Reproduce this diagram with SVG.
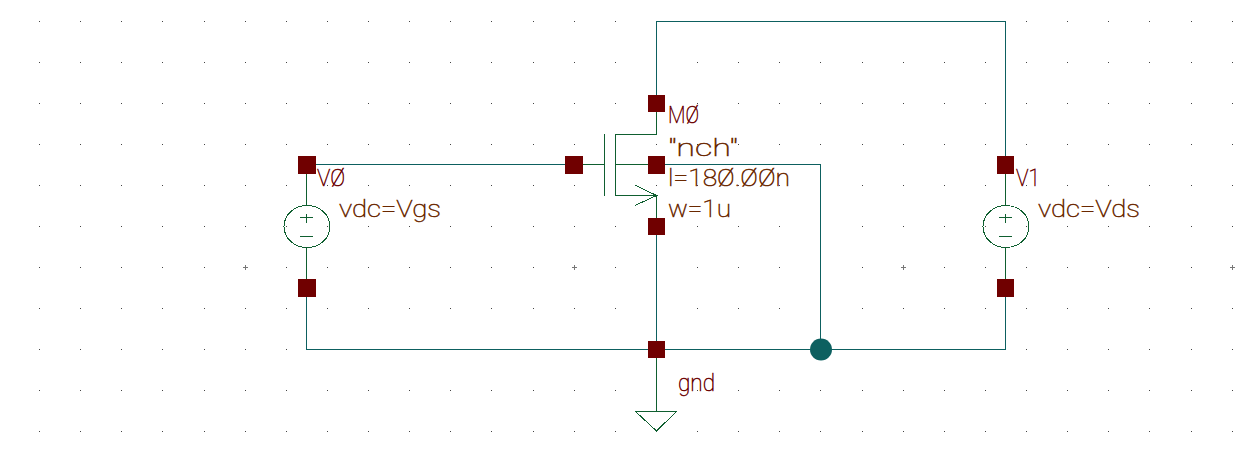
<svg xmlns="http://www.w3.org/2000/svg" width="1254" height="452" viewBox="0 0 1254 452">
<style>
.grid line{stroke:#444;stroke-width:1;stroke-dasharray:1 40.125;shape-rendering:crispEdges}
.tick{stroke:#777;stroke-width:1;fill:none;shape-rendering:crispEdges}
.wire{stroke:#0d6060;stroke-width:1;fill:none;shape-rendering:crispEdges}
.sym{stroke:#0f5f30;stroke-width:1;fill:none;shape-rendering:crispEdges}
.pin{fill:#700000}
text{font-family:Roboto,"Liberation Sans",sans-serif;font-weight:100;font-size:23.500px}
.name{fill:#6a0000;stroke:#6a0000;stroke-width:.5}
.prop{fill:#6a2800;stroke:#6a2800;stroke-width:.5}
</style>
<rect width="1254" height="452" fill="#fff"/>
<g class="grid">
<line x1="39" y1="21.5" x2="1254" y2="21.5"/><line x1="39" y1="62.5" x2="1254" y2="62.5"/><line x1="39" y1="103.5" x2="1254" y2="103.5"/><line x1="39" y1="144.5" x2="1254" y2="144.5"/><line x1="39" y1="185.5" x2="1254" y2="185.5"/><line x1="39" y1="226.5" x2="1254" y2="226.5"/><line x1="39" y1="267.5" x2="1254" y2="267.5"/><line x1="39" y1="308.5" x2="1254" y2="308.5"/><line x1="39" y1="349.5" x2="1254" y2="349.5"/><line x1="39" y1="390.5" x2="1254" y2="390.5"/><line x1="39" y1="431.5" x2="1254" y2="431.5"/>
</g>
<path class="tick" d="M243 267.500h5M245.500 265v5M572 267.500h5M574.500 265v5M901 267.500h5M903.500 265v5M1230 267.500h5M1232.500 265v5"/>
<g id="connectors">
<path class="wire" d="M316 164.500H565"/>
<path class="wire" d="M656.500 95V21.500H1005.500V156"/>
<path class="wire" d="M665 164.500H820.500V349.500"/>
<path class="wire" d="M656.500 235V341"/>
<path class="wire" d="M306.500 297V349.500H1005.500V297"/>
<circle cx="821" cy="349.500" r="11" fill="#0d6060"/>
</g>
<g id="V0">
<path class="sym" d="M306.500 174V205M306.500 247V279M300 217.500h13M306.500 213.500v9M300 236.500h13"/>
<ellipse class="sym" cx="307" cy="226.500" rx="23" ry="21"/>
<rect class="pin" x="298" y="156" width="18" height="18"/>
<rect class="pin" x="298" y="279" width="18" height="18"/>
<text class="name" x="317" y="186" textLength="28" lengthAdjust="spacingAndGlyphs">VØ</text>
<text class="prop" x="339" y="217" textLength="102" lengthAdjust="spacingAndGlyphs">vdc=Vgs</text>
</g>
<g id="M0">
<path class="sym" d="M583 164.500H604.500M604.500 134V196M656.500 112V134.500H615.500V195.500H656.500V218M615.500 164.500H648M635 185L656.500 195.500L635 205.500"/>
<rect class="pin" x="648" y="95" width="17" height="17"/>
<rect class="pin" x="565" y="156" width="18" height="18"/>
<rect class="pin" x="648" y="156" width="17" height="18"/>
<rect class="pin" x="648" y="218" width="17" height="17"/>
<text class="name" x="668" y="123" textLength="31" lengthAdjust="spacingAndGlyphs">MØ</text>
<text class="prop" x="668" y="156" textLength="70" lengthAdjust="spacingAndGlyphs">"nch"</text>
<text class="prop" x="668" y="186" textLength="122" lengthAdjust="spacingAndGlyphs">l=18Ø.ØØn</text>
<text class="prop" x="668" y="217" textLength="63" lengthAdjust="spacingAndGlyphs">w=1u</text>
</g>
<g id="V1">
<path class="sym" d="M1005.500 174V205M1005.500 247V279M999 217.500h13M1005.500 213.500v9M999 236.500h13"/>
<ellipse class="sym" cx="1006" cy="226.500" rx="23" ry="21"/>
<rect class="pin" x="997" y="156" width="17" height="18"/>
<rect class="pin" x="997" y="279" width="17" height="18"/>
<text class="name" x="1016" y="186" textLength="24" lengthAdjust="spacingAndGlyphs">V1</text>
<text class="prop" x="1038" y="217" textLength="102" lengthAdjust="spacingAndGlyphs">vdc=Vds</text>
</g>
<g id="gnd">
<path class="sym" d="M656.500 358V411.500M635.500 411.500H676.500L656.500 431Z"/>
<rect class="pin" x="648" y="341" width="17" height="17"/>
<text class="name" x="678" y="391" textLength="37" lengthAdjust="spacingAndGlyphs">gnd</text>
</g>
</svg>
